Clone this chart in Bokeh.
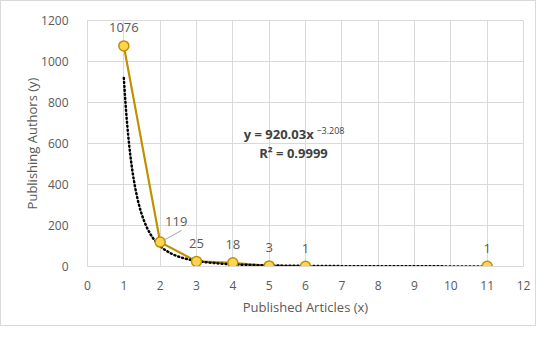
from bokeh.plotting import figure
from bokeh.models import Range1d, ColumnDataSource, LabelSet, Label, FixedTicker
from bokeh.core.properties import value
from bokeh.embed import file_html
from bokeh.resources import INLINE
import numpy as np

# data
articles = [1, 2, 3, 4, 5, 6]
authors = [1076, 119, 25, 18, 3, 1]
extra_x = [11]
extra_y = [1]
label_x = [1, 3, 4, 5, 6, 11]
label_y = [1076, 25, 18, 3, 1, 1]
label_txt = ["1076", "25", "18", "3", "1", "1"]
coef_a = 920.03
coef_b = -3.208
trend_x = np.linspace(1, 11, 400)
trend_y = coef_a * trend_x ** coef_b

FONT = "Open Sans"
GRAY = "#595959"
GOLD = "#BF9000"

p = figure(width=534, height=324, output_backend="svg", toolbar_location=None,
           x_range=Range1d(0, 12), y_range=Range1d(0, 1200),
           frame_width=436, frame_height=246,
           min_border_left=86, min_border_right=12, min_border_top=19, min_border_bottom=59,
           styles={"border": "1px solid #d9d9d9"})
p.outline_line_color = "#d9d9d9"
p.background_fill_color = "white"
p.border_fill_color = "white"

p.xaxis.ticker = FixedTicker(ticks=list(range(0, 13)))
p.yaxis.ticker = FixedTicker(ticks=list(range(0, 1201, 200)))
for ax in (p.xaxis[0], p.yaxis[0]):
    ax.major_tick_line_color = None
    ax.minor_tick_line_color = None
    ax.major_label_text_font = FONT
    ax.major_label_text_font_size = "12px"
    ax.major_label_text_color = GRAY
    ax.axis_label_text_font = FONT
    ax.axis_label_text_font_size = "13px"
    ax.axis_label_text_font_style = "normal"
    ax.axis_label_text_color = GRAY
p.xaxis.axis_line_color = "#d9d9d9"
p.yaxis.axis_line_color = None
p.xaxis.axis_label = "Published Articles (x)"
p.yaxis.axis_label = "Publishing Authors (y)"
p.xaxis.major_label_standoff = 8
p.yaxis.major_label_standoff = 13
p.xaxis.axis_label_standoff = 5
p.yaxis.axis_label_standoff = -3

p.xgrid.grid_line_color = "#d9d9d9"
p.ygrid.grid_line_color = "#d9d9d9"
p.xgrid.ticker = p.xaxis.ticker
p.ygrid.ticker = p.yaxis.ticker

# series line
p.line(articles, authors, line_color=GOLD, line_width=2.2)
# trend line
p.line(trend_x, trend_y, line_color="black", line_width=2.5, line_dash="1 3", line_cap="round")
# markers
p.scatter(articles + extra_x, authors + extra_y, size=10, fill_color="#FFD54F",
          line_color=GOLD, line_width=1.5)

src = ColumnDataSource(dict(x=label_x, y=label_y, t=label_txt))
p.add_layout(LabelSet(x="x", y="y", text="t", source=src, y_offset=18, text_align="center",
                      text_baseline="middle", text_font=value(FONT), text_font_size=value("13px"),
                      text_color=GRAY))
# 119 label with leader
p.add_layout(Label(x=2, y=119, text="119", x_offset=16, y_offset=21, text_align="center",
                   text_baseline="middle", text_font=FONT, text_font_size="13px", text_color=GRAY))
p.segment(x0=[2.09], y0=[127], x1=[2.59], y1=[176], line_color="#a6a6a6", line_width=1)

# equation
p.add_layout(Label(x=4.30, y=644, text="y = 920.03x", text_align="left", text_baseline="middle",
                   text_font=FONT, text_font_size="13px", text_font_style="bold", text_color="#404040"))
p.add_layout(Label(x=6.30, y=663, text="\u22123.208", text_align="left", text_baseline="middle",
                   text_font=FONT, text_font_size="9px", text_color="#404040"))
p.add_layout(Label(x=5.67, y=556, text="R\u00b2 = 0.9999", text_align="center", text_baseline="middle",
                   text_font=FONT, text_font_size="13px", text_font_style="bold", text_color="#404040"))

open("out.html", "w").write(file_html(p, INLINE))
